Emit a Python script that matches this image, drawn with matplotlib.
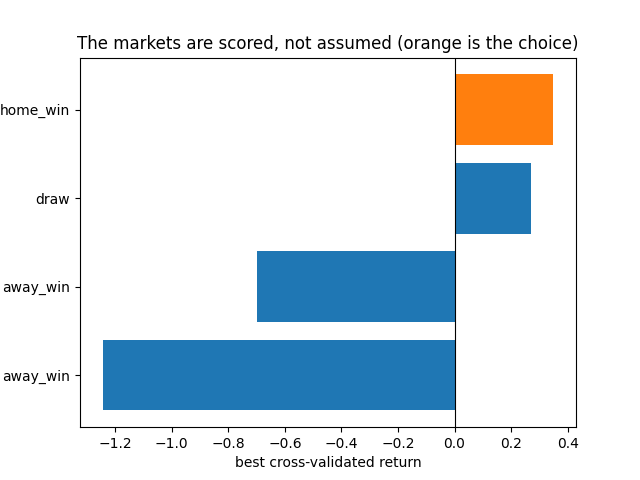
import matplotlib
matplotlib.use("Agg")
import matplotlib.pyplot as plt

# ── Data ─────────────────────────────────────────────────────────────────────
markets = ["away_win", "away_win", "draw", "home_win"]
returns = [-1.245, -0.70, 0.272, 0.35]
chosen = "home_win"

colors = ["#ff7f0e" if m == chosen else "#1f77b4" for m in markets]

fig, ax = plt.subplots(figsize=(6.4, 4.8), dpi=100)

pos = list(range(len(markets)))
ax.barh(pos, returns, color=colors)
ax.set_yticks(pos)
ax.set_yticklabels(markets)
ax.axvline(0, color="black", linewidth=0.8)

ax.set_xlabel("best cross-validated return")
ax.set_title("The markets are scored, not assumed (orange is the choice)")

plt.savefig("out.png", dpi=100)
